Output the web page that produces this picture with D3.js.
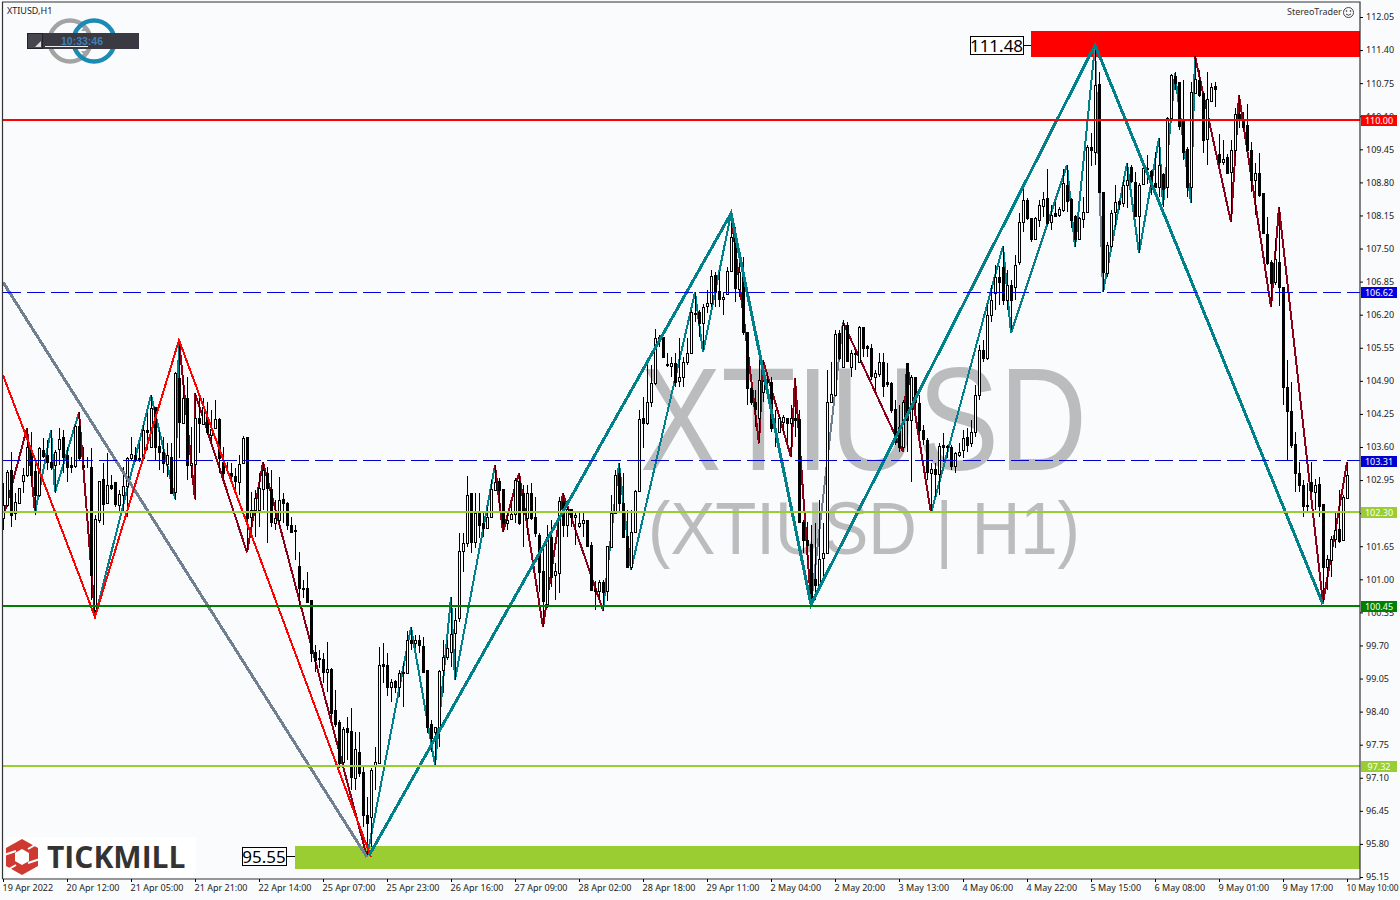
<!DOCTYPE html>
<html><head><meta charset="utf-8">
<script src="https://cdn.jsdelivr.net/npm/d3@7"></script>
<style>html,body{margin:0;padding:0;background:#f9fbfd;overflow:hidden}svg{display:block}text{font-family:"Noto Sans",sans-serif}</style>
</head><body>
<svg id="c" width="1400" height="900"></svg>
<script>
// [open, high, low, close]
const bars19Apr=[[102.18,102.87,101.95,102.44],[102.44,103.12,102.40,103.09],[103.12,103.48,102.00,102.24],[102.28,102.67,102.14,102.50],[102.48,102.77,102.48,102.77],[102.91,103.16,102.67,103.03],[103.03,103.95,102.99,103.58],[103.52,103.87,102.87,103.03],[103.11,103.32,102.24,102.63],[102.63,103.58,102.59,103.56],[103.52,103.75,103.36,103.40],[103.42,103.71,103.12,103.28],[103.28,103.91,103.12,103.18],[103.22,103.52,102.67,103.48],[103.54,103.95,103.22,103.73],[103.77,103.91,103.07,103.38]];
const bars20Apr=[[103.42,103.58,102.89,103.18],[103.22,103.38,103.07,103.18],[103.20,104.01,103.16,103.99],[103.99,104.26,103.32,103.36],[103.22,103.58,103.12,103.18],[103.18,103.38,103.16,103.18],[103.18,103.56,100.57,101.06],[100.37,102.24,100.24,102.16],[102.14,102.91,102.08,102.91],[102.95,103.26,102.04,102.46],[102.48,103.46,102.48,102.83],[102.83,103.03,102.73,102.77],[102.89,102.89,102.40,102.46],[102.44,102.73,102.28,102.65],[102.63,103.18,102.28,102.81],[102.81,103.38,102.20,103.36]];
const bars21AprA=[[103.36,103.77,103.32,103.44],[103.42,103.58,103.28,103.32],[103.36,103.65,103.28,103.32],[103.36,104.01,103.32,103.91],[103.91,104.24,103.52,103.87],[103.58,104.60,103.56,104.34],[104.36,104.36,103.32,103.58],[103.60,103.91,103.12,103.48],[103.48,103.77,103.07,103.26],[103.24,103.65,102.99,103.42],[103.38,103.65,102.67,102.67],[102.69,105.05,102.53,105.03],[104.93,105.68,103.36,104.07],[104.05,104.89,104.05,104.54],[104.54,104.95,102.93,103.22],[103.22,103.97,102.97,103.26]];
const bars21AprB=[[103.24,104.64,102.53,104.15],[104.15,104.54,103.46,104.05],[104.03,104.54,104.03,104.36],[104.17,104.46,103.81,103.87],[103.81,104.30,103.65,103.93],[103.95,104.50,103.93,104.13],[104.13,104.15,103.07,103.36],[103.28,103.58,102.93,103.07],[103.09,103.28,103.07,103.09],[103.07,103.26,102.87,103.01],[103.01,103.16,102.67,102.91],[102.89,103.42,102.63,103.24],[103.26,103.79,103.24,103.75],[103.77,103.77,101.55,102.18],[102.20,102.69,102.00,102.34],[102.34,102.73,101.81,102.57]];
const bars22Apr=[[102.34,103.07,102.00,102.77],[102.75,103.28,102.34,103.12],[103.07,103.18,101.69,102.77],[102.75,103.12,102.00,102.10],[102.08,102.53,101.95,102.18],[102.14,102.99,102.00,102.53],[102.55,102.67,102.08,102.48],[102.48,102.50,101.95,102.04],[102.04,102.20,101.89,101.91],[101.95,102.04,101.36,101.93],[101.24,101.51,100.43,100.81],[100.81,100.96,100.61,100.79],[100.81,101.12,100.53,100.53],[100.57,100.57,99.35,99.53],[99.55,99.69,99.15,99.39],[99.43,99.59,99.23,99.41]];
const bars25AprA=[[99.41,99.53,98.94,99.15],[99.15,99.74,98.76,99.21],[99.21,99.23,98.21,98.35],[98.41,98.80,98.07,98.13],[98.17,98.21,97.27,97.37],[97.39,98.07,97.33,98.03],[98.05,98.27,97.43,97.98],[97.99,98.45,96.84,97.09],[97.07,97.98,96.84,97.64],[97.58,97.98,97.09,97.17],[97.19,97.33,96.11,96.35],[96.35,96.70,95.52,96.19],[96.31,97.27,95.72,97.23],[97.33,97.68,96.84,97.39],[97.37,99.65,97.37,99.29],[99.31,99.72,98.94,99.27]];
const bars25AprB=[[99.29,99.53,98.68,98.86],[98.86,99.02,98.57,98.96],[98.98,99.00,98.74,98.86],[98.86,99.19,98.66,99.14],[99.14,99.33,98.47,99.16],[99.14,99.96,99.14,99.78],[99.78,100.04,99.59,99.72],[99.72,99.88,99.63,99.78],[99.78,99.88,99.53,99.69],[99.67,99.84,99.15,99.15],[99.19,99.19,97.96,98.07],[98.13,98.21,97.58,97.86],[97.98,98.07,97.33,98.07],[98.07,99.19,97.68,99.17],[99.19,99.78,98.74,99.45],[99.45,99.78,99.39,99.63]];
const bars26Apr=[[99.55,100.63,99.25,99.90],[99.92,100.41,99.00,100.18],[100.22,101.89,100.14,101.53],[101.53,101.89,101.12,101.69],[101.69,103.01,101.61,102.63],[102.67,102.67,101.49,101.71],[101.71,102.67,101.59,102.28],[102.28,102.67,101.79,102.04],[102.08,102.30,101.81,101.98],[101.98,102.40,101.98,102.20],[102.20,102.93,102.20,102.75],[102.73,103.22,102.73,102.89],[102.91,102.97,102.38,102.73],[102.75,102.75,101.91,102.08],[102.08,102.30,101.95,102.14],[102.16,102.48,102.14,102.26]];
const bars27Apr=[[102.26,102.97,102.08,102.93],[102.91,103.07,102.04,102.08],[102.67,102.83,101.61,102.30],[102.18,102.83,101.85,102.67],[102.67,102.87,102.14,102.18],[102.20,102.59,101.81,101.89],[101.85,101.89,100.73,101.12],[101.14,101.61,100.04,100.55],[100.49,102.04,100.41,101.81],[101.81,102.14,100.83,101.02],[101.06,101.30,100.57,101.14],[101.10,102.59,100.71,102.51],[102.51,102.67,101.81,102.04],[102.04,102.53,101.81,102.36],[102.36,102.36,102.00,102.20],[102.20,102.30,101.65,102.24]];
const bars28AprA=[[102.02,102.28,101.98,102.08],[102.08,102.30,101.81,102.14],[102.14,102.14,101.61,101.63],[101.65,101.71,100.77,100.77],[100.79,100.94,100.37,100.75],[100.75,100.96,100.57,100.92],[100.92,100.96,100.35,100.73],[100.75,101.63,100.55,101.63],[101.61,102.63,101.61,102.28],[102.28,103.12,102.28,103.03],[103.07,103.26,102.28,102.48],[102.48,103.07,101.81,101.81],[101.83,102.34,101.20,101.22],[101.22,102.34,101.16,101.91],[101.91,102.73,101.89,102.71],[102.71,104.30,102.71,104.13]];
const bars28AprB=[[104.15,104.56,103.56,104.05],[104.05,105.19,104.01,104.46],[104.46,105.19,104.36,104.83],[104.83,105.89,104.79,105.72],[105.74,105.78,105.54,105.72],[105.74,105.74,105.33,105.35],[105.21,105.42,105.15,105.19],[105.17,105.35,104.95,105.23],[105.23,105.42,104.76,104.85],[104.87,105.72,104.76,104.95],[104.95,105.35,104.76,105.25],[105.25,105.72,105.19,105.42],[105.42,106.27,105.42,106.23],[106.21,106.62,106.03,106.19],[106.23,106.27,105.74,106.01],[106.01,106.40,105.48,106.33]];
const bars29Apr=[[106.35,106.66,106.21,106.41],[106.41,107.05,106.33,106.94],[106.96,107.01,106.33,106.64],[106.64,107.01,106.33,106.48],[106.48,106.62,106.17,106.52],[106.58,107.11,106.56,107.03],[107.03,108.17,107.01,107.70],[107.70,107.90,106.43,106.70],[106.68,107.31,106.52,107.01],[106.99,107.31,105.78,105.84],[105.84,105.84,104.40,104.74],[104.74,104.76,104.40,104.46],[104.46,104.70,103.97,104.32],[104.15,105.29,103.65,104.89],[104.66,105.29,104.46,104.87],[104.89,105.03,104.54,104.85]];
const bars2MayA=[[104.85,104.95,103.87,103.95],[103.95,104.30,103.58,103.91],[103.87,104.21,103.85,104.15],[104.07,104.21,103.85,104.17],[104.15,104.15,103.65,104.05],[104.05,104.40,103.38,104.15],[104.15,104.93,103.77,104.11],[104.13,104.30,102.10,102.10],[102.10,102.14,101.49,101.75],[101.75,102.10,101.36,101.65],[101.67,102.04,100.51,100.57],[100.98,102.08,100.57,100.86],[100.85,102.53,100.83,101.38],[101.39,102.08,101.00,101.49],[101.49,105.09,101.49,104.46],[104.46,105.25,104.44,104.62]];
const bars2MayB=[[104.60,105.88,104.60,105.80],[105.82,105.88,105.29,105.33],[105.15,106.07,105.13,105.97],[105.97,106.03,105.25,105.27],[105.15,105.48,104.95,105.42],[105.42,105.48,105.09,105.40],[105.25,105.95,105.23,105.93],[105.93,105.93,105.35,105.52],[105.56,105.58,105.35,105.52],[105.52,105.60,104.89,104.97],[104.95,105.09,104.70,105.03],[105.01,105.42,104.95,105.25],[105.25,105.42,104.56,104.77],[104.85,105.23,104.76,104.81],[104.83,104.85,104.24,104.30],[104.32,104.50,103.62,103.67]];
const bars3May=[[103.97,104.40,103.48,103.58],[103.58,104.50,103.52,104.46],[105.23,105.23,103.48,104.11],[104.11,105.00,102.89,104.95],[104.95,104.95,104.30,104.46],[104.44,104.60,103.81,103.91],[103.91,104.01,103.62,103.73],[103.71,103.75,102.93,103.09],[103.07,103.26,102.28,103.14],[103.14,103.26,102.59,103.05],[103.05,103.65,102.63,103.60],[103.62,103.85,103.28,103.58],[103.60,103.62,103.36,103.58],[103.58,103.62,103.12,103.20],[103.20,103.48,103.07,103.46],[103.42,103.65,103.38,103.48]];
const bars4MayA=[[103.52,103.91,103.36,103.75],[103.77,103.95,103.48,103.62],[103.65,104.11,103.58,103.87],[103.87,104.79,103.77,104.60],[104.60,105.58,104.50,105.48],[105.48,105.68,105.25,105.33],[105.33,106.37,105.29,106.17],[106.17,106.76,106.03,106.46],[106.60,107.15,106.27,106.92],[106.92,107.13,106.37,106.82],[107.11,107.53,106.37,106.46],[106.46,107.05,106.27,106.76],[106.76,106.86,105.87,106.46],[106.72,107.35,106.46,107.15],[107.21,108.17,107.15,108.00],[108.00,108.72,107.80,108.43]];
const bars4MayB=[[108.43,108.47,108.04,108.08],[108.08,108.08,107.60,107.66],[107.66,108.10,107.64,108.08],[108.04,108.43,107.90,108.33],[108.31,108.59,108.10,108.45],[108.47,109.04,107.94,107.98],[108.00,108.33,107.84,108.13],[108.17,108.39,108.10,108.12],[108.13,108.29,108.10,108.25],[108.23,109.04,108.19,108.76],[108.72,109.12,108.19,108.41],[108.45,108.47,107.88,108.04],[108.12,108.13,107.51,107.66],[107.66,108.10,107.64,108.08],[108.06,108.49,107.88,108.19],[108.19,109.51,108.17,109.47]];
const bars5May=[[109.47,109.75,109.10,109.41],[109.37,111.48,109.12,110.69],[110.71,110.95,108.59,108.59],[108.59,108.59,106.62,107.02],[107.00,107.61,106.92,107.55],[107.53,108.23,107.49,108.17],[108.19,108.72,107.90,108.39],[108.41,108.43,108.23,108.35],[108.37,108.82,108.29,108.72],[108.72,109.16,108.27,108.82],[109.08,109.12,108.76,108.80],[108.78,108.98,108.10,108.12],[108.12,108.76,107.39,108.72],[108.74,109.16,108.72,109.06],[109.06,109.31,108.74,109.04],[109.00,109.02,108.53,108.71]];
const bars6May=[[108.76,109.37,108.67,108.69],[108.69,109.65,108.49,109.12],[108.94,108.96,108.29,108.65],[108.69,110.06,108.47,110.04],[110.04,110.92,110.04,110.89],[110.87,110.95,110.59,110.73],[110.75,110.75,109.81,109.88],[110.00,110.79,109.22,109.37],[109.43,109.47,108.49,108.69],[108.69,110.75,108.37,110.55],[110.53,111.26,110.53,110.81],[110.79,110.98,110.45,110.49],[110.53,110.55,109.35,109.61],[109.63,110.95,109.12,110.41],[110.38,110.73,110.36,110.65],[110.67,110.75,110.26,110.61]];
const bars9MayA=[[109.33,109.73,109.12,109.18],[109.18,109.61,109.12,109.24],[109.28,109.33,108.94,108.96],[108.98,109.61,108.00,109.41],[109.41,110.24,109.27,110.12],[110.12,110.49,109.84,110.00],[109.98,110.16,109.81,109.86],[109.90,110.32,109.41,109.41],[109.41,109.57,108.59,108.82],[108.82,109.16,108.13,108.96],[108.96,109.35,108.49,108.53],[108.57,108.57,107.78,107.78],[107.76,108.10,107.15,107.19],[107.21,107.25,106.33,106.80],[106.82,107.64,106.76,107.27],[107.21,108.29,106.35,106.72]];
const bars9MayB=[[106.72,106.72,104.40,104.76],[104.76,105.29,103.32,104.28],[104.28,104.85,103.56,103.62],[103.64,103.87,102.69,103.07],[103.07,103.28,102.69,102.83],[102.83,102.93,102.20,102.42],[102.44,102.87,102.28,102.42],[102.89,103.28,102.67,102.71],[102.69,102.95,102.34,102.83],[102.85,102.99,102.20,102.42],[102.46,102.46,100.51,101.22],[101.22,101.46,100.77,101.38],[101.36,101.83,101.02,101.77],[101.77,102.30,101.59,101.95],[101.97,102.73,101.69,101.73],[101.75,102.63,101.75,102.59],[102.57,103.28,102.55,103.03]];

const timeLabels=["19 Apr 2022","20 Apr 12:00","21 Apr 05:00","21 Apr 21:00","22 Apr 14:00","25 Apr 07:00","25 Apr 23:00","26 Apr 16:00","27 Apr 09:00","28 Apr 02:00","28 Apr 18:00","29 Apr 11:00","2 May 04:00","2 May 20:00","3 May 13:00","4 May 06:00","4 May 22:00","5 May 15:00","6 May 08:00","9 May 01:00","9 May 17:00","10 May 10:00"];
const priceTicks=[112.05,111.40,110.75,110.10,109.45,108.80,108.15,107.50,106.85,106.20,105.55,104.90,104.25,103.60,102.95,102.30,101.65,101.00,100.35,99.70,99.05,98.40,97.75,97.10,96.45,95.80,95.15];

// minor zigzag: bar index, price, tone of the leg that ends at the point
const minorIdx=[0,6,8,12,13,19,23,37,43,44,48,48,61,65,91,102,108,112,113,123,125,129,135,140,150,154,157,173,175,182,189,190,197,198,202,210,225,226,232,250,252,266,268,273,275,281,284,289,290,293,297,298,307,309,317,319,330,336];
const minorPrice=[102.18,103.95,102.28,103.91,102.69,104.26,100.24,104.60,102.57,105.68,102.55,104.64,101.51,103.28,95.52,100.04,97.33,100.63,99.00,103.22,101.91,103.07,100.04,102.67,100.37,103.26,101.16,106.62,105.44,108.17,103.65,105.29,103.38,104.93,100.49,106.03,103.48,105.23,102.28,107.53,105.82,109.12,107.51,111.48,106.62,109.16,107.39,109.65,108.33,110.92,108.37,111.26,108.00,110.49,106.33,108.29,100.51,103.28];
const minorTone=["r","r","r","t","t","t","r","t","t","t","r","r","r","r","r","t","t","t","t","t","r","r","r","r","r","t","t","t","t","t","r","r","r","r","r","g","r","r","r","t","t","t","t","t","g","t","t","t","t","t","t","t","r","r","r","r","r","r"];
const majorIdx=[91.5,182,202,273,330];
const majorPrice=[95.55,108.17,100.49,111.48,100.49];
const redIdx=[0,23,44,92];
const redPrice=[104.99,100.24,105.68,95.52];
const grayIdx=[0,91];
const grayPrice=[106.82,95.52];

const levelPrices=[110.00,106.62,103.31,102.30,100.45,97.32];
const levelLabels=["110.00","106.62","103.31","102.30","100.45","97.32"];
const levelColors=["#ff0000","#0000e0","#0000d0","#9acd32","#008000","#9acd32"];
const levelWidths=[2,1,1,2,2,2];
const levelDashes=[null,"18 6","18 6",null,null,null];

const zoneHigh=[111.755,95.74];
const zoneLow=[111.24,95.28];
const zoneValue=[111.48,95.55];
const zoneText=["111.48","95.55"];
const zoneColor=["#ff0000","#9acd32"];
const zoneStartIdx=[257,73];

const bars=[].concat(bars19Apr,bars20Apr,bars21AprA,bars21AprB,bars22Apr,bars25AprA,bars25AprB,bars26Apr,bars27Apr,bars28AprA,bars28AprB,bars29Apr,bars2MayA,bars2MayB,bars3May,bars4MayA,bars4MayB,bars5May,bars6May,bars9MayA,bars9MayB);

const L=3,R=1360,T=2,B=879;
const x=d3.scaleLinear().domain([0,336]).range([3,1347]);
const y=d3.scaleLinear().domain([95.15,112.05]).range([876,16]);
const svg=d3.select("#c");

// watermark
svg.append("text").attr("x",640).attr("y",470).attr("font-size",146).attr("textLength",447).attr("lengthAdjust","spacingAndGlyphs").style("font-family","'Liberation Sans'").attr("fill","#bbbcbe").text("XTIUSD");
svg.append("text").attr("x",648).attr("y",554).attr("font-size",74).attr("textLength",432).attr("lengthAdjust","spacingAndGlyphs").style("font-family","'Liberation Sans'").attr("fill","#bbbcbe").text("(XTIUSD | H1)");

// logo behind the clock
const rings=svg.append("g").attr("fill","none").attr("stroke-width",4.5);
rings.append("circle").attr("cx",70).attr("cy",41).attr("r",20.5).attr("stroke","#a3a3a3");
rings.append("path").attr("d","M85,26L89,31H81ZM85,56L89,51H81Z").attr("fill","#a3a3a3").attr("stroke","none");
rings.append("circle").attr("cx",94).attr("cy",41).attr("r",20.5).attr("stroke","#1b8ab5");

// zones
svg.selectAll(".zone").data(zoneHigh).join("rect").attr("class","zone")
 .attr("x",(d,i)=>x(zoneStartIdx[i])).attr("width",(d,i)=>R-x(zoneStartIdx[i]))
 .attr("y",d=>y(d)).attr("height",(d,i)=>y(zoneLow[i])-y(d)).attr("fill",(d,i)=>zoneColor[i]).attr("shape-rendering","crispEdges");

// minor zigzag under the candles
const tones={r:"#8b0014",t:"#008088",g:"#708090"};
const legs=d3.range(1,minorIdx.length);
svg.append("g").attr("shape-rendering","crispEdges").selectAll("line").data(legs).join("line")
 .attr("x1",i=>x(minorIdx[i-1])).attr("y1",i=>y(minorPrice[i-1]))
 .attr("x2",i=>x(minorIdx[i])).attr("y2",i=>y(minorPrice[i]))
 .attr("stroke",i=>tones[minorTone[i]]).attr("stroke-width",2);

// candles
const g=svg.append("g").attr("shape-rendering","crispEdges");
const cx=i=>Math.round(x(i));
g.selectAll("line").data(bars).join("line")
 .attr("x1",(d,i)=>cx(i)+.5).attr("x2",(d,i)=>cx(i)+.5)
 .attr("y1",d=>Math.round(y(d[1]))).attr("y2",d=>Math.round(y(d[2])))
 .attr("stroke","#000");
g.selectAll("rect").data(bars).join("rect")
 .attr("x",(d,i)=>cx(i)-.5).attr("width",2)
 .attr("y",d=>Math.round(y(Math.max(d[0],d[3])))+.5)
 .attr("height",d=>Math.max(0,Math.round(y(Math.min(d[0],d[3])))-Math.round(y(Math.max(d[0],d[3])))))
 .attr("fill",d=>d[3]>=d[0]?"#fff":"#000").attr("stroke","#000");

// major zigzags over the candles
const ln=d3.line().x(d=>x(d[0])).y(d=>y(d[1]));
const path=(a,b,c,w)=>svg.append("path").attr("d",ln(d3.zip(a,b))).attr("fill","none").attr("stroke",c).attr("stroke-width",w).attr("shape-rendering","crispEdges");
path(grayIdx,grayPrice,"#708090",3);
path(redIdx,redPrice,"#ff0000",2);
path(majorIdx,majorPrice,"#008088",3);

// levels
svg.append("g").attr("shape-rendering","crispEdges").selectAll("line").data(levelPrices).join("line")
 .attr("x1",L).attr("x2",R).attr("y1",d=>y(d)).attr("y2",d=>y(d))
 .attr("stroke",(d,i)=>levelColors[i]).attr("stroke-width",(d,i)=>levelWidths[i])
 .attr("stroke-dasharray",(d,i)=>levelDashes[i]);

// zone value labels
zoneValue.forEach((v,i)=>{
  const rx=i==0?[970,53]:[242,44];
  svg.append("line").attr("x1",rx[0]+rx[1]).attr("x2",x(zoneStartIdx[i])).attr("y1",Math.round(y(v))+.5).attr("y2",Math.round(y(v))+.5).attr("stroke","#000").attr("shape-rendering","crispEdges");
  svg.append("rect").attr("x",rx[0]+.5).attr("y",Math.round(y(v))-8.5).attr("width",rx[1]).attr("height",18).attr("fill","#fff").attr("stroke","#000").attr("shape-rendering","crispEdges");
  svg.append("text").attr("x",rx[0]+rx[1]/2).attr("y",y(v)+7).attr("text-anchor","middle").attr("font-size",17).attr("fill","#000").text(zoneText[i]);
});

// frame
svg.append("path").attr("d",`M${L-.5},${B}V${T}H${R}V${B}H${L-.5}`).attr("fill","none").attr("stroke","#333").attr("stroke-width",1.2);

// axes
const ya=d3.axisRight(y).tickValues(priceTicks).tickFormat(d3.format(".2f")).tickSize(3).tickPadding(3);
const yg=svg.append("g").attr("transform",`translate(${R},1)`).call(ya);
yg.select(".domain").remove();
yg.selectAll("text").attr("font-size",9).attr("fill","#222").style("font-family","'Noto Sans'");
const tickIdx=timeLabels.map((d,i)=>i*16);
const xa=d3.axisBottom(x).tickValues(tickIdx).tickFormat((d,i)=>timeLabels[i]).tickSize(3).tickPadding(3);
const xg=svg.append("g").attr("transform",`translate(0,${B})`).call(xa);
xg.select(".domain").remove();
xg.selectAll("text").attr("font-size",9).attr("fill","#222").attr("text-anchor","start").attr("dx",-1).style("font-family","'Noto Sans'");
xg.selectAll(".tick:last-of-type text").attr("textLength",52).attr("lengthAdjust","spacingAndGlyphs");

// level tags on the axis
const tag=svg.append("g").selectAll("g").data(levelPrices).join("g").attr("transform",d=>`translate(${R+1},${Math.round(y(d))-5})`);
tag.append("rect").attr("width",36).attr("height",11).attr("fill",(d,i)=>levelColors[i]);
tag.append("text").attr("x",18).attr("y",8.8).attr("text-anchor","middle").attr("font-size",9).attr("fill","#fff").text((d,i)=>levelLabels[i]);

// chart heading, clock, brand
svg.append("text").attr("x",7).attr("y",14).attr("font-size",9).attr("fill","#222").text("XTIUSD,H1");
svg.append("rect").attr("x",27).attr("y",33).attr("width",112).attr("height",16).attr("fill","#3b3941");
svg.append("rect").attr("x",27.5).attr("y",33.5).attr("width",15).attr("height",15).attr("fill","#47454d").attr("stroke","#232227");
svg.append("path").attr("d","M35,47L41,41V47Z").attr("fill","#ddd");
svg.append("text").attr("x",82).attr("y",44.5).attr("text-anchor","middle").attr("font-size",10.5).attr("font-weight",700).style("font-family","'Liberation Sans'").attr("fill","#3f80b8").text("10:33:46");
svg.append("rect").attr("x",45).attr("y",46).attr("width",43).attr("height",1).attr("fill","#eee");
svg.append("text").attr("x",1287).attr("y",15).attr("font-size",9).attr("fill","#333").text("StereoTrader");
const s=svg.append("g").attr("transform","translate(1348.5,12.5)").attr("fill","none").attr("stroke","#444");
s.append("circle").attr("r",5);
s.append("circle").attr("cx",-2).attr("cy",-1.5).attr("r",.5);
s.append("circle").attr("cx",2).attr("cy",-1.5).attr("r",.5);
s.append("path").attr("d","M-2.5,1.5Q0,4 2.5,1.5");

svg.append("rect").attr("x",6).attr("y",837).attr("width",190).attr("height",40).attr("fill","#fff");
const h=svg.append("g").attr("transform","translate(22,857)");
h.append("path").attr("d","M0,-18L16,-9V9L0,18L-16,9V-9Z").attr("fill","#cf3a30");
h.append("path").attr("d","M0,-8L7,-4V4L0,8L-7,4V-4Z").attr("fill","#fff");
h.append("path").attr("d","M-18,-2L-6,-6M6,6L18,2M6,-8L13,-12M-6,8L-13,12").attr("stroke","#fff").attr("stroke-width",2);
svg.append("text").attr("x",47).attr("y",868).attr("font-size",30).attr("font-weight",700).style("font-family","'Open Sans'").attr("fill","#333").text("TICKMILL");
</script>
</body></html>
